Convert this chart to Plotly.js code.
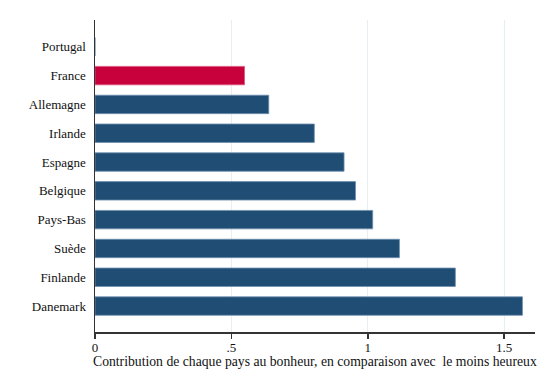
<!DOCTYPE html>
<html>
<head>
<meta charset="utf-8">
<script src="https://cdn.plot.ly/plotly-3.0.1.min.js"></script>
<style>html,body{margin:0;padding:0;background:#fff;}#chart{width:557px;height:391px;}</style>
</head>
<body>
<div id="chart"></div>
<script>
var countries = ["Danemark","Finlande","Suède","Pays-Bas","Belgique","Espagne","Irlande","Allemagne","France","Portugal"];
var values = [1.567, 1.321, 1.116, 1.018, 0.955, 0.913, 0.804, 0.637, 0.548, 0];
var highlight = "France";
var xTickVals = [0, 0.5, 1, 1.5];
var xTickText = ["0", ".5", "1", "1.5"];
var xTitle = "Contribution de chaque pays au bonheur, en comparaison avec  le moins heureux";

var navy = "#1f4d74", red = "#c8003b";
var colors = countries.map(function(c){ return c === highlight ? red : navy; });
var lineColors = countries.map(function(c){ return c === highlight ? "#d8577a" : "#6f8fae"; });
var serif = "Liberation Serif, Times New Roman, serif";

var trace = {
  type: "bar", orientation: "h",
  x: values, y: countries,
  width: 0.64,
  marker: {color: colors, line: {color: lineColors, width: 0.8}},
  hoverinfo: "x+y"
};
var layout = {
  width: 557, height: 391,
  margin: {l: 95, r: 22, t: 20, b: 59},
  paper_bgcolor: "#fff", plot_bgcolor: "#fff",
  font: {family: serif, size: 13, color: "#111"},
  showlegend: false,
  xaxis: {
    range: [0, 1.613],
    tickvals: xTickVals, ticktext: xTickText,
    showgrid: true, gridcolor: "#e6eff2", gridwidth: 1,
    zeroline: false,
    showline: true, linecolor: "#333", linewidth: 1.5,
    ticks: "outside", ticklen: 5, tickcolor: "#333", tickwidth: 1.5,
    ticklabelstandoff: -2,
    tickfont: {size: 13, family: serif, color: "#111"},
    fixedrange: true
  },
  yaxis: {
    categoryorder: "array", categoryarray: countries,
    range: [-0.9, 9.93],
    showgrid: false, zeroline: false,
    showline: true, linecolor: "#333", linewidth: 1.5,
    ticks: "", ticklen: 0,
    ticklabelstandoff: 5,
    tickfont: {size: 13, family: serif, color: "#111"},
    fixedrange: true
  },
  annotations: [{
    text: xTitle, xref: "paper", yref: "paper",
    x: 0, y: 0, xanchor: "left", yanchor: "middle",
    xshift: -4, yshift: -29, showarrow: false,
    font: {size: 13.7, family: serif, color: "#111"}
  }]
};
Plotly.newPlot("chart", [trace], layout, {displayModeBar: false, staticPlot: true});
</script>
</body>
</html>
